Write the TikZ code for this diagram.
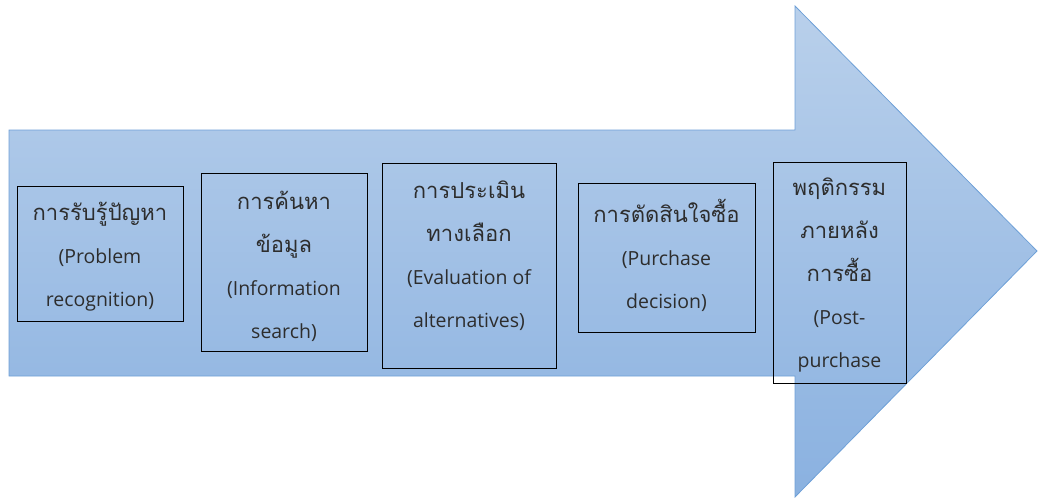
\documentclass[tikz,border=0pt]{standalone}
\usepackage{fontspec}
\setmainfont{Open Sans}
\newfontfamily\thai[Script=Thai,Scale=1.13]{Loma}
\usetikzlibrary{calc}
\definecolor{arrtop}{RGB}{185,208,235}
\definecolor{arrbot}{RGB}{138,177,224}
\definecolor{arredge}{RGB}{110,160,215}
\definecolor{txt}{RGB}{45,45,45}
\tikzset{
  stepbox/.style={draw=black, line width=0.7pt, fill=none, inner sep=0pt},
  lbl/.style={align=center, text=txt, inner sep=0pt, font={\fontsize{14.6}{32.25}\selectfont}},
}
\begin{document}
\begin{tikzpicture}[x=0.75pt, y=-0.75pt]
\useasboundingbox (0,0) rectangle (1039,500);
% big arrow
\shade[top color=arrtop, bottom color=arrbot, draw=arredge, line width=0.6pt]
  (9,130) -- (795,130) -- (795,6) -- (1037,251) -- (795,497) -- (795,376) -- (9,376) -- cycle;
% boxes
\node[stepbox, minimum width=166*0.75pt, minimum height=135*0.75pt] (b1) at (100,253.5) {};
\node[stepbox, minimum width=166*0.75pt, minimum height=178*0.75pt] (b2) at (284,262) {};
\node[stepbox, minimum width=174*0.75pt, minimum height=205*0.75pt] (b3) at (469,265.5) {};
\node[stepbox, minimum width=177*0.75pt, minimum height=149*0.75pt] (b4) at (666.5,258) {};
\node[stepbox, minimum width=133*0.75pt, minimum height=221*0.75pt] (b5) at (839.5,273) {};
% labels
\node[lbl] (t1) at (100,256.5) {{\thai การรับรู้ปัญหา}\\(Problem\\recognition)};
\node[lbl] (t2) at (284,266) {{\thai การค้นหา}\\{\thai ข้อมูล}\\(Information\\search)};
\node[lbl] (t3) at (469,256) {{\thai การประเมิน}\\{\thai ทางเลือก}\\(Evaluation of\\alternatives)};
\node[lbl] (t4) at (666.5,255) {{\thai การตัดสินใจซื้อ}\\(Purchase\\decision)};
\node[lbl] (t5) at (839.5,275.5) {{\thai พฤติกรรม}\\{\thai ภายหลัง}\\{\thai การซื้อ}\\(Post-\\purchase};
\end{tikzpicture}
\end{document}
